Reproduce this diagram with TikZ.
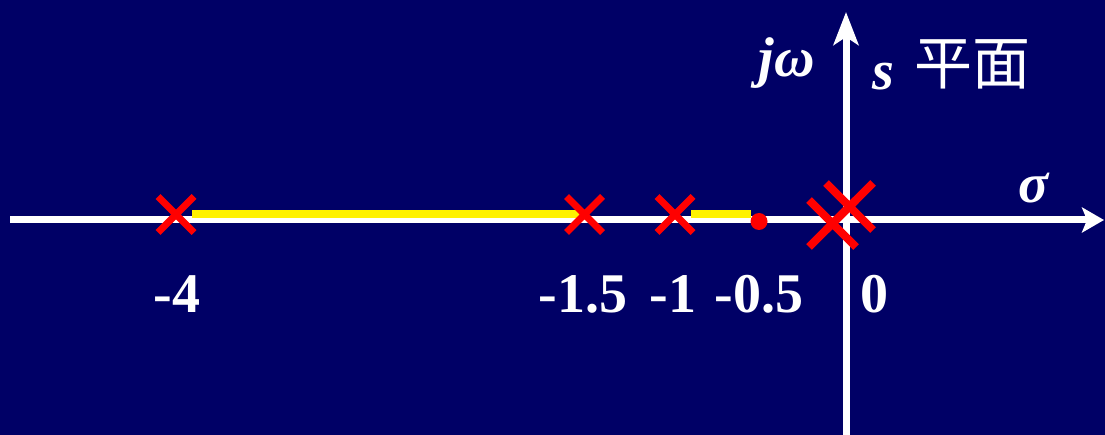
\documentclass[tikz,border=0pt]{standalone}
\usepackage{fontspec}
\setmainfont{Liberation Serif}
\newfontfamily\cjk{Noto Sans CJK SC}
\usetikzlibrary{arrows.meta,shapes.misc}
\definecolor{navy}{RGB}{0,0,102}
\begin{document}
\begin{tikzpicture}[x=1pt,y=-1pt,
  axis/.style={white,line width=7pt},
  locus/.style={yellow,line width=8pt},
  pole/.style={cross out,draw=red,line width=7pt,minimum size=29pt,inner sep=0pt},
  bigpole/.style={cross out,draw=red,line width=8pt,minimum size=39pt,inner sep=0pt},
  zero/.style={circle,fill=red,minimum size=17pt,inner sep=0pt},
  lbl/.style={white,font=\fontsize{56}{60}\selectfont\bfseries,anchor=base,inner sep=0pt},
  ]
\fill[navy] (0,0) rectangle (1105,435);
\useasboundingbox (0,0) rectangle (1105,435);
% axes
\coordinate (xs) at (10,220);
\coordinate (xe) at (1104,220);
\coordinate (ys) at (846,436);
\coordinate (ye) at (846,12);
\draw[axis,-{Stealth[length=22pt,width=25pt,inset=5pt]}] (xs) -- (xe);
\draw[axis,-{Stealth[length=33pt,width=25pt,inset=8pt]}] (ys) -- (ye);
% zero
\node[zero] (z) at (759,221.5) {};
% root locus segments
\coordinate (l1s) at (192,214);
\coordinate (l1e) at (585,214);
\coordinate (l2s) at (691,214);
\coordinate (l2e) at (751,214);
\draw[locus] (l1s) -- (l1e);
\draw[locus] (l2s) -- (l2e);
% poles
\node[pole] (p4) at (176,214.5) {};
\node[pole] (p15) at (584.5,214.5) {};
\node[pole] (p1) at (675,214.5) {};
\node[bigpole] (p0a) at (849.5,206.5) {};
\node[bigpole] (p0b) at (832.5,223.5) {};
% labels
\node[lbl] (t4) at (177,313) {-4};
\node[lbl] (t15) at (583,313) {-1.5};
\node[lbl] (t1) at (673,313) {-1};
\node[lbl] (t05) at (759,313) {-0.5};
\node[lbl] (t0) at (874,313) {0};
\node[lbl] (jw) at (787,77) {\itshape jω};
\node[lbl] (s) at (883,90) {\itshape s};
\node[white,font=\cjk\fontsize{58}{60}\selectfont,inner sep=0pt] (plane) at (972,64) {平面};
\node[lbl] (sig) at (1034,203) {\itshape σ};
\end{tikzpicture}
\end{document}
